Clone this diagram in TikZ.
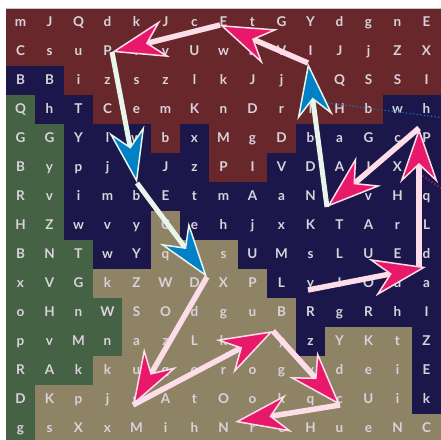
\documentclass[tikz,border=0pt]{standalone}
\usepackage{fontspec}
\setmainfont{Lato}
\usetikzlibrary{arrows.meta}
\definecolor{wred}{HTML}{68282B}
\definecolor{wnavy}{HTML}{1C174B}
\definecolor{wgreen}{HTML}{456244}
\definecolor{wtan}{HTML}{8F8366}
\definecolor{letter}{HTML}{D8D2DA}
\definecolor{pinkhead}{HTML}{E8196A}
\definecolor{pinkline}{HTML}{FCDDE8}
\definecolor{bluehead}{HTML}{0080C6}
\definecolor{paleline}{HTML}{E9F5EA}

\begin{document}
\begin{tikzpicture}[x=1pt,y=-1pt,
  cell/.style={minimum size=29pt,inner sep=0pt,text height=10pt,text depth=3pt,text=letter,font=\bfseries\fontsize{13.5}{13.5}\selectfont},
  pinkarrow/.style={draw=pinkline,line width=5.5pt,-{Stealth[length=55pt,width=38pt,inset=18pt,fill=pinkhead,line width=1.5pt]}},
  bluearrow/.style={draw=paleline,line width=5pt,-{Stealth[length=55pt,width=36pt,inset=18pt,fill=bluehead,line width=1.5pt]}},
  dotline/.style={line width=1.6pt,line cap=round,dash pattern=on 0pt off 3.6pt}]
\useasboundingbox (0,0) rectangle (441,439);
\clip (0,0) rectangle (441,439);
\foreach \r/\a/\b/\c in {0/0/14/wred,1/0/14/wred,2/0/1/wnavy,2/2/14/wred,
  3/0/0/wgreen,3/1/2/wnavy,3/3/12/wred,3/13/14/wnavy,
  4/0/1/wgreen,4/2/4/wnavy,4/5/5/wred,4/6/6/wnavy,4/7/9/wred,4/10/14/wnavy,
  5/0/1/wgreen,5/2/6/wnavy,5/7/8/wred,5/9/14/wnavy,
  6/0/1/wgreen,6/2/14/wnavy,
  7/0/1/wgreen,7/2/4/wnavy,7/5/5/wtan,7/6/14/wnavy,
  8/0/2/wgreen,8/3/4/wnavy,8/5/7/wtan,8/8/14/wnavy,
  9/0/2/wgreen,9/3/8/wtan,9/9/14/wnavy,
  10/0/3/wgreen,10/4/9/wtan,10/10/14/wnavy,
  11/0/3/wgreen,11/4/9/wtan,11/10/10/wnavy,11/11/13/wtan,11/14/14/wnavy,
  12/0/2/wgreen,12/3/13/wtan,12/14/14/wnavy,
  13/0/0/wgreen,13/1/13/wtan,13/14/14/wnavy,
  14/0/0/wgreen,14/1/14/wtan}
  \fill[\c] (6+29*\a-0.2,8+29*\r-0.2) rectangle (35.2+29*\b,37.2+29*\r);
\draw[gray!45,line width=0.7pt] (6,8) -- (441,8);
\foreach \row [count=\r from 0] in {{m,J,Q,d,k,J,c,E,t,G,Y,d,g,n,E},
  {C,s,u,P,f,v,U,w,a,V,I,J,j,Z,X},
  {B,B,i,z,s,z,l,k,J,j,t,Q,S,S,I},
  {Q,h,T,C,e,m,K,n,D,r,l,H,b,w,h},
  {G,G,Y,l,w,b,x,M,g,D,b,a,G,c,P},
  {B,y,p,j,r,J,z,P,I,V,D,A,I,X,e},
  {R,v,i,m,b,E,t,m,A,a,N,s,v,H,q},
  {H,Z,w,v,y,C,e,h,j,x,K,T,A,r,L},
  {B,N,T,w,Y,q,f,s,U,M,s,L,U,E,d},
  {x,V,G,k,Z,W,D,X,P,L,y,I,O,d,a},
  {o,H,n,W,S,O,d,g,u,B,R,g,R,h,I},
  {p,v,M,n,a,z,L,k,j,y,z,Y,K,t,Z},
  {R,A,k,k,u,q,o,r,o,g,v,d,e,i,E},
  {D,K,p,j,n,A,t,O,o,k,q,c,U,i,k},
  {g,s,X,x,M,i,h,N,r,c,H,u,e,N,C}}
  \foreach \ch [count=\c from 0] in \row
    \node[cell] (l-\r-\c) at (20.5+29*\c,22.5+29*\r) {\ch};
\coordinate (d0) at (328,103);
\coordinate (d1) at (445,118);
\coordinate (d2) at (423,176);
\coordinate (d3) at (447,192);
\draw[dotline,bluehead] (d0) -- (d1);
\draw[dotline,pinkhead] (d2) -- (d3);
\coordinate (s0) at (308,290);
\coordinate (s1) at (426,267);
\coordinate (s2) at (419,128);
\coordinate (s3) at (327,207);
\coordinate (s4) at (308,63);
\coordinate (s5) at (220,25);
\coordinate (s6) at (112,52);
\coordinate (s7) at (137,183);
\coordinate (s8) at (207,277);
\coordinate (s9) at (133,405);
\coordinate (s10) at (273,331);
\coordinate (s11) at (340,405);
\coordinate (s12) at (235,422);
\draw[pinkarrow] (s0) -- (s1);
\draw[pinkarrow] ([xshift=-7pt]s1) -- (s2);
\draw[pinkarrow] (s2) -- (s3);
\draw[bluearrow] (s3) -- (s4);
\draw[pinkarrow] (s4) -- (s5);
\draw[pinkarrow] (s5) -- (s6);
\draw[bluearrow] (s6) -- (s7);
\draw[bluearrow] (s7) -- (s8);
\draw[pinkarrow] (s8) -- (s9);
\draw[pinkarrow] (s9) -- (s10);
\draw[pinkarrow] (s10) -- (s11);
\draw[pinkarrow] (s11) -- (s12);
\end{tikzpicture}
\end{document}
